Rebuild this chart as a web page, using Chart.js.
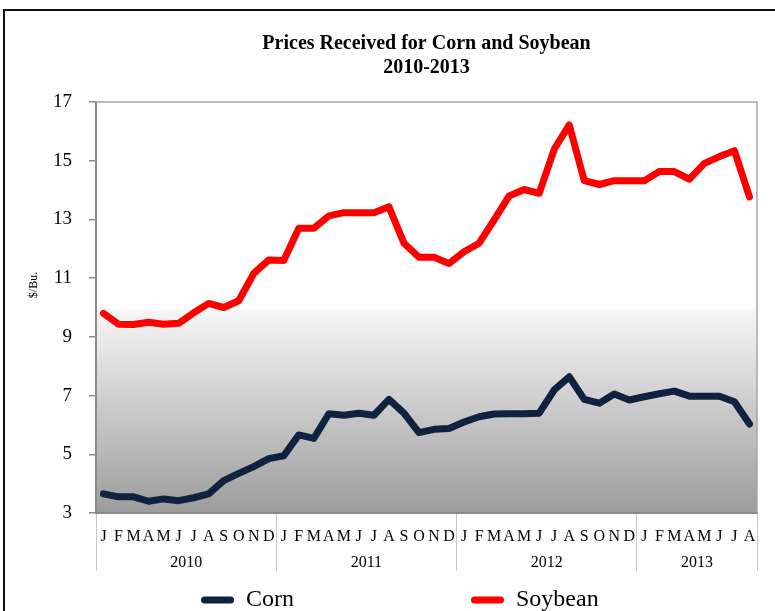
<!DOCTYPE html>
<html>
<head>
<meta charset="utf-8">
<script src="https://cdn.jsdelivr.net/npm/chart.js@4.4.1/dist/chart.umd.min.js"></script>
<style>
  html, body { margin: 0; padding: 0; overflow: hidden; background: #fff; }
  #wrap { position: relative; width: 775px; height: 622px; }
</style>
</head>
<body>
<div id="wrap"><canvas id="c"></canvas></div>
<script>
// ---- data ----
const monthLetters = ['J','F','M','A','M','J','J','A','S','O','N','D'];
const yearLabels = ['2010', '2011', '2012', '2013'];
const monthsPerYear = [12, 12, 12, 8];
const months = monthsPerYear.flatMap(n => monthLetters.slice(0, n));

const corn = [
  3.65, 3.55, 3.55, 3.40, 3.48, 3.42, 3.52, 3.65, 4.10, 4.35, 4.58, 4.85,
  4.95, 5.66, 5.54, 6.38, 6.33, 6.40, 6.33, 6.87, 6.40, 5.74, 5.85, 5.88,
  6.10, 6.28, 6.37, 6.38, 6.38, 6.40, 7.19, 7.64, 6.87, 6.74, 7.05, 6.85,
  6.96, 7.06, 7.15, 6.98, 6.98, 6.98, 6.79, 6.03
];
const soybean = [
  9.80, 9.43, 9.42, 9.50, 9.43, 9.46, 9.82, 10.14, 10.00, 10.23, 11.16, 11.62,
  11.60, 12.70, 12.70, 13.12, 13.23, 13.23, 13.23, 13.43, 12.19, 11.71, 11.71, 11.50,
  11.90, 12.19, 12.98, 13.80, 14.02, 13.89, 15.39, 16.22, 14.32, 14.19, 14.32, 14.32,
  14.32, 14.63, 14.63, 14.37, 14.91, 15.14, 15.34, 13.77
];
const yMin = 3, yMax = 17, yStep = 2;

// derived: year boundaries (month index where each year starts) and centres
const yearStarts = [];
monthsPerYear.reduce((acc, n) => { yearStarts.push(acc); return acc + n; }, 0);
const totalMonths = monthsPerYear.reduce((a, b) => a + b, 0);
const yearCentres = yearStarts.map((s, i) => s + (monthsPerYear[i] - 1) / 2);

const serif = "'Liberation Serif', 'Times New Roman', serif";
const sepColor = '#c8c8c8';

const plotDecor = {
  id: 'plotDecor',
  beforeDraw(chart) {
    const {ctx, chartArea: a} = chart;
    const g = ctx.createLinearGradient(0, a.top, 0, a.bottom);
    g.addColorStop(0, '#ffffff');
    g.addColorStop(0.5, '#ffffff');
    g.addColorStop(0.51, '#f6f6f6');
    g.addColorStop(1, '#9c9c9c');
    ctx.save();
    ctx.fillStyle = g;
    ctx.fillRect(a.left, a.top, a.right - a.left, a.bottom - a.top);
    ctx.restore();
  },
  beforeDatasetsDraw(chart) {
    const {ctx, chartArea: a} = chart;
    ctx.save();
    ctx.strokeStyle = '#a6a6a6';
    ctx.lineWidth = 1.5;
    ctx.beginPath();
    ctx.moveTo(a.left, a.top);
    ctx.lineTo(a.right, a.top);
    ctx.lineTo(a.right, a.bottom);
    ctx.stroke();
    ctx.restore();
  },
  afterDraw(chart) {
    // outer chart frame (left and top edges)
    const {ctx} = chart;
    ctx.save();
    ctx.strokeStyle = '#111';
    ctx.lineWidth = 2;
    ctx.beginPath();
    ctx.moveTo(4, chart.height);
    ctx.lineTo(4, 10);
    ctx.lineTo(chart.width, 10);
    ctx.stroke();
    ctx.restore();
  }
};

new Chart(document.getElementById('c'), {
  type: 'line',
  data: {
    labels: months,
    datasets: [
      { label: 'Corn', data: corn, borderColor: '#0f2340', backgroundColor: '#0f2340' },
      { label: 'Soybean', data: soybean, borderColor: '#ff0000', backgroundColor: '#ff0000' }
    ]
  },
  options: {
    responsive: true,
    maintainAspectRatio: false,
    animation: false,
    devicePixelRatio: 1,
    layout: { padding: { left: 0, right: 18, top: 0, bottom: 0 } },
    elements: {
      line: { borderWidth: 7, tension: 0, borderJoinStyle: 'round', borderCapStyle: 'round' },
      point: { radius: 0, hoverRadius: 0 }
    },
    plugins: {
      title: {
        display: true,
        text: ['Prices Received for Corn and Soybean', '2010-2013'],
        fullSize: false,
        color: '#000',
        font: { family: serif, size: 20, weight: 'bold', lineHeight: 1.2 },
        padding: { top: 32, bottom: 22 }
      },
      legend: {
        position: 'bottom',
        align: 'start',
        labels: {
          color: '#000',
          font: { family: serif, size: 24 },
          boxWidth: 33,
          boxHeight: 7,
          useBorderRadius: true,
          borderRadius: 3.5,
          padding: 12,
          generateLabels(chart) {
            const items = Chart.defaults.plugins.legend.labels.generateLabels(chart);
            items.forEach(it => { it.lineWidth = 0; it.borderRadius = 3.5; });
            const gap = (n) => ({ text: ' '.repeat(n), fillStyle: 'rgba(0,0,0,0)', strokeStyle: 'rgba(0,0,0,0)', lineWidth: 0, hidden: false, borderRadius: 0 });
            return [gap(22), items[0], gap(18), items[1]];
          }
        },
        onClick(e, item, legend) {
          if (item.datasetIndex === undefined) return;
          Chart.defaults.plugins.legend.onClick.call(legend, e, item, legend);
        }
      },
      tooltip: { enabled: false }
    },
    scales: {
      x: {
        type: 'category',
        position: 'bottom',
        weight: 0,
        offset: true,
        grid: {
          offset: true,
          drawOnChartArea: false,
          drawTicks: true,
          tickLength: 58,
          lineWidth: 1,
          color: (c) => (c.type !== 'tick' || yearStarts.includes(c.index)) ? sepColor : 'rgba(0,0,0,0)'
        },
        border: { display: true, color: '#8c8c8c', width: 2 },
        ticks: {
          autoSkip: false, maxRotation: 0, minRotation: 0,
          color: '#000', font: { family: serif, size: 16 }, padding: -44
        },
        afterFit(scale) { scale.height = 38; }
      },
      x2: {
        type: 'linear',
        position: 'bottom',
        weight: 1,
        min: -0.5,
        max: totalMonths - 0.5,
        grid: { display: false, drawTicks: false, tickLength: 0 },
        border: { display: false },
        afterBuildTicks(scale) { scale.ticks = yearCentres.map(v => ({ value: v })); },
        ticks: {
          autoSkip: false, maxRotation: 0, minRotation: 0,
          color: '#000', font: { family: serif, size: 16 }, padding: 2,
          callback: (v, i) => yearLabels[i]
        },
        afterFit(scale) { scale.height = 25; }
      },
      y: {
        type: 'linear',
        min: yMin, max: yMax,
        ticks: { stepSize: yStep, color: '#000', font: { family: serif, size: 19 }, padding: 17 },
        grid: { drawOnChartArea: false, drawTicks: true, tickLength: 7, color: '#8c8c8c', lineWidth: 1.5 },
        border: { display: true, color: '#8c8c8c', width: 2 },
        title: { display: true, text: ' '.repeat(15) + '$/Bu.', color: '#000', font: { family: serif, size: 12 }, padding: { top: 27, bottom: 0 } },
        afterFit(scale) { scale.width = 96; }
      }
    }
  },
  plugins: [plotDecor]
});
</script>
</body>
</html>
